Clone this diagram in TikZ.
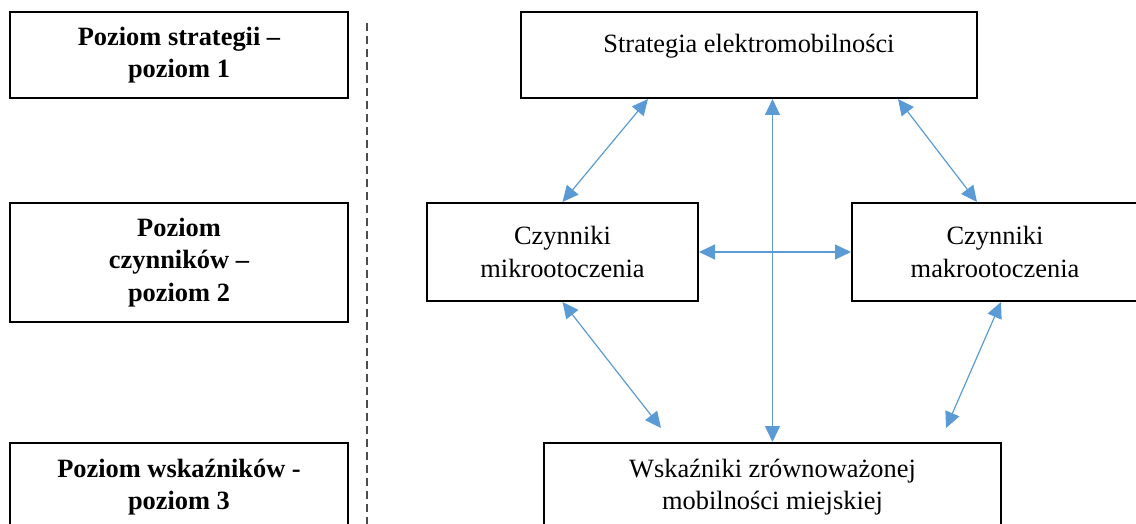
\documentclass[tikz,border=0pt]{standalone}
\usepackage{fontspec}
\setmainfont{Liberation Serif}
\usepackage{tikz}
\usetikzlibrary{positioning,arrows.meta}
\definecolor{linkblue}{HTML}{5B9BD5}

\begin{document}
\begin{tikzpicture}[x=0.5pt, y=-0.5pt,
        box/.style = {draw, line width=1pt, align=center, inner sep=0pt,
          font=\fontsize{13.2}{16.3}\selectfont},
        lvl/.style = {box, minimum width=169pt, font=\fontsize{13.2}{16.3}\selectfont\bfseries},
        link/.style = {draw=linkblue, line width=0.6pt,
          {Triangle[length=8pt,width=7.5pt]}-{Triangle[length=8pt,width=7.5pt]}}]
            \useasboundingbox (0,0) rectangle (1136,524);
            \node[lvl, minimum height=43pt] (l1) at (179,55) {Poziom strategii –\\poziom 1};
            \node[lvl, minimum height=59.5pt] (l2) at (179,262.5) {Poziom\\czynników –\\poziom 2};
            \node[lvl, minimum height=44pt] (l3) at (179,487) {Poziom wskaźników -\\poziom 3};
            \node[box, minimum width=228pt, minimum height=43pt, text height=5pt, text depth=7pt] (strat) at (749,55) {Strategia elektromobilności};
            \node[box, minimum width=135.5pt, minimum height=49pt] (mikro) at (562.5,252) {Czynniki\\mikrootoczenia};
            \node[box, minimum width=143pt, minimum height=49pt] (makro) at (995,252) {Czynniki\\makrootoczenia};
            \node[box, minimum width=228.5pt, minimum height=44pt] (wsk) at (772.5,487) {Wskaźniki zrównoważonej\\mobilności miejskiej};
            \draw[gray!60!black, line width=0.6pt, dash pattern=on 4pt off 2.5pt] (367,23) -- (367,524);
            \coordinate (wl) at (661,428);
            \coordinate (wr) at (946,428);
            \draw[link] ([xshift=-50.5pt]strat.south) -- (mikro.north);
            \draw[link] ([xshift=74.5pt]strat.south) -- ([xshift=-9pt]makro.north);
            \draw[link] (strat.south -| wsk.north) -- (wsk.north);
            \draw[link] (mikro.east) -- (makro.west);
            \draw[link] (mikro.south) -- (wl);
            \draw[link] ([xshift=3pt]makro.south) -- (wr);
        \end{tikzpicture}
\end{document}
